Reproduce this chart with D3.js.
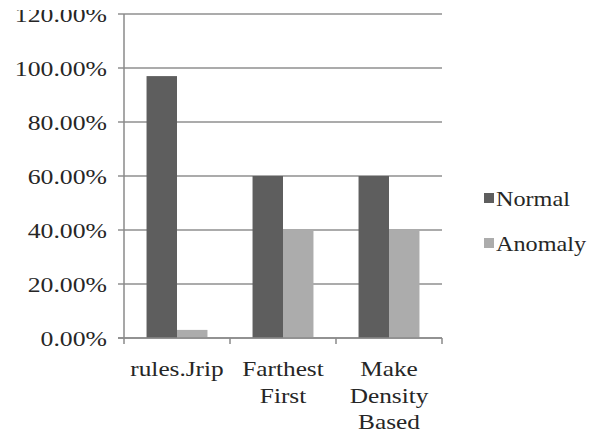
<!DOCTYPE html>
<html><head><meta charset="utf-8">
<script src="https://cdn.jsdelivr.net/npm/d3@7"></script>
</head><body style="margin:0">
<svg id="c" width="603" height="432" style="display:block;background:#fff"></svg>
<script>
const categories = [["rules.Jrip"], ["Farthest", "First"], ["Make", "Density", "Based"]];
const categoryKeys = ["rules.Jrip", "Farthest First", "Make Density Based"];
const seriesNames = ["Normal", "Anomaly"];
const normalValues = [0.97, 0.60, 0.60];
const anomalyValues = [0.03, 0.40, 0.40];
const yTicks = [0, 0.2, 0.4, 0.6, 0.8, 1.0, 1.2];
const colors = ["#5e5e5e", "#acacac"];

const svg = d3.select("#c");
const FONT = '"Liberation Serif", "Times New Roman", Tinos, FreeSerif, serif';
const pLeft = 124, pRight = 442, pTop = 14, pBottom = 338;

const x0 = d3.scaleBand().domain(categoryKeys).range([pLeft, pRight]).padding(0);
const x1 = d3.scaleBand().domain(seriesNames).range([0, x0.bandwidth()]).paddingInner(0).paddingOuter(0.74);
const y = d3.scaleLinear().domain([0, 1.2]).range([pBottom, pTop]);

const data = categoryKeys.map((k, i) => ({key: k, values: [normalValues[i], anomalyValues[i]]}));

svg.append("g").selectAll("line").data(yTicks).join("line")
  .attr("x1", pLeft - 6).attr("x2", pRight)
  .attr("y1", d => y(d)).attr("y2", d => y(d))
  .attr("stroke", "#8f8f8f").attr("stroke-width", 1.5);

const g = svg.append("g");
data.forEach(d => {
  g.selectAll(null).data(d.values).join("rect")
    .attr("x", (v, j) => x0(d.key) + x1(seriesNames[j]))
    .attr("width", x1.bandwidth())
    .attr("y", v => y(v))
    .attr("height", v => y(0) - y(v))
    .attr("fill", (v, j) => colors[j]);
});

svg.append("line").attr("x1", pLeft).attr("x2", pLeft).attr("y1", pTop).attr("y2", pBottom)
  .attr("stroke", "#8a8a8a").attr("stroke-width", 1.5);
svg.append("line").attr("x1", pLeft - 6).attr("x2", pRight).attr("y1", pBottom).attr("y2", pBottom)
  .attr("stroke", "#8a8a8a").attr("stroke-width", 1.5);
const xTickPos = categoryKeys.map(k => x0(k)).concat([pRight]);
svg.append("g").selectAll("line").data(xTickPos).join("line")
  .attr("x1", d => d).attr("x2", d => d).attr("y1", pBottom).attr("y2", pBottom + 6)
  .attr("stroke", "#8a8a8a").attr("stroke-width", 1.5);

// y labels
const fmt = d3.format(".2%");
svg.append("g").selectAll("text").data(yTicks).join("text")
  .attr("transform", d => `translate(107,${y(d) + 7.5}) scale(1.17,1)`)
  .attr("text-anchor", "end")
  .attr("font-family", FONT).style("font-family", FONT)
  .attr("font-size", 22)
  .attr("fill", "#262626")
  .text(d => fmt(d));

// x labels
categories.forEach((lines, i) => {
  const cx = x0(categoryKeys[i]) + x0.bandwidth() / 2;
  svg.append("g").selectAll("text").data(lines).join("text")
    .attr("transform", (t, li) => `translate(${cx},${376 + li * 26.5}) scale(1.15,1)`)
    .attr("text-anchor", "middle")
    .attr("font-family", FONT).style("font-family", FONT)
    .attr("font-size", 22)
    .attr("fill", "#262626")
    .text(t => t);
});

// legend
seriesNames.forEach((s, i) => {
  const ly = 198 + i * 45;
  svg.append("rect").attr("x", 484).attr("y", ly - 5).attr("width", 10).attr("height", 10).attr("fill", colors[i]);
  svg.append("text")
    .attr("transform", `translate(496,${ly + 8}) scale(1.1,1)`)
    .attr("font-family", FONT).style("font-family", FONT)
    .attr("font-size", 22)
    .attr("fill", "#262626")
    .text(s);
});

svg.append("rect").attr("x", 0).attr("y", 0).attr("width", 118).attr("height", 10).attr("fill", "#fff");
</script>
</body></html>
